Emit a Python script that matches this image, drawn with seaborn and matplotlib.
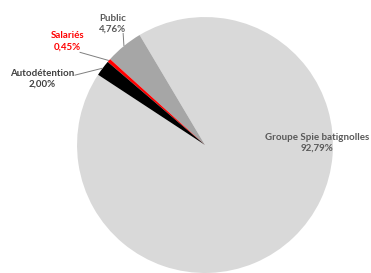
import numpy as np
import matplotlib
matplotlib.use("Agg")
import matplotlib.pyplot as plt
import seaborn as sns

labels = ["Groupe Spie batignolles", "Public", "Salariés", "Autodétention"]
values = [92.79, 4.76, 0.45, 2.00]
value_labels = ["92,79%", "4,76%", "0,45%", "2,00%"]
colors = ["#d9d9d9", "#a6a6a6", "#ff0000", "#000000"]
text_colors = ["#595959", "#595959", "#ff0000", "#404040"]

sns.set_style("white")
plt.rcParams["font.family"] = ["Lato", "DejaVu Sans"]

fig = plt.figure(figsize=(3.71, 2.73), dpi=100)
ax = fig.add_axes([0, 0, 1, 1])
ax.set_axis_off()

wedges, _ = ax.pie(values, colors=colors, startangle=146.7, counterclock=True,
                   radius=1.0, wedgeprops=dict(linewidth=0))
ax.set_aspect("equal")
ax.set_xlim(-1.602, 1.297)
ax.set_ylim(-1.0, 1.133)

# label positions (data coords) and leader line starts
text_pos = {
    "Groupe Spie batignolles": (0.875, 0.02),
    "Public": (-0.72, 0.95),
    "Salariés": (-1.075, 0.81),
    "Autodétention": (-1.27, 0.52),
}
leader_start = {
    "Public": (-0.64, 0.875),
    "Salariés": (-0.98, 0.725),
    "Autodétention": (-1.02, 0.545),
}

for w, lab, vl, tc in zip(wedges, labels, value_labels, text_colors):
    x, y = text_pos[lab]
    ax.text(x, y, f"{lab}\n{vl}", ha="center", va="center", fontsize=7.0,
            fontweight="bold", color=tc, linespacing=1.25)
    if lab in leader_start:
        ang = np.deg2rad((w.theta1 + w.theta2) / 2)
        ex, ey = np.cos(ang) * 1.0, np.sin(ang) * 1.0
        sx, sy = leader_start[lab]
        ax.plot([sx, ex], [sy, ey], color="#7f7f7f", lw=0.7, solid_capstyle="butt")

fig.savefig("out.png", dpi=100)
